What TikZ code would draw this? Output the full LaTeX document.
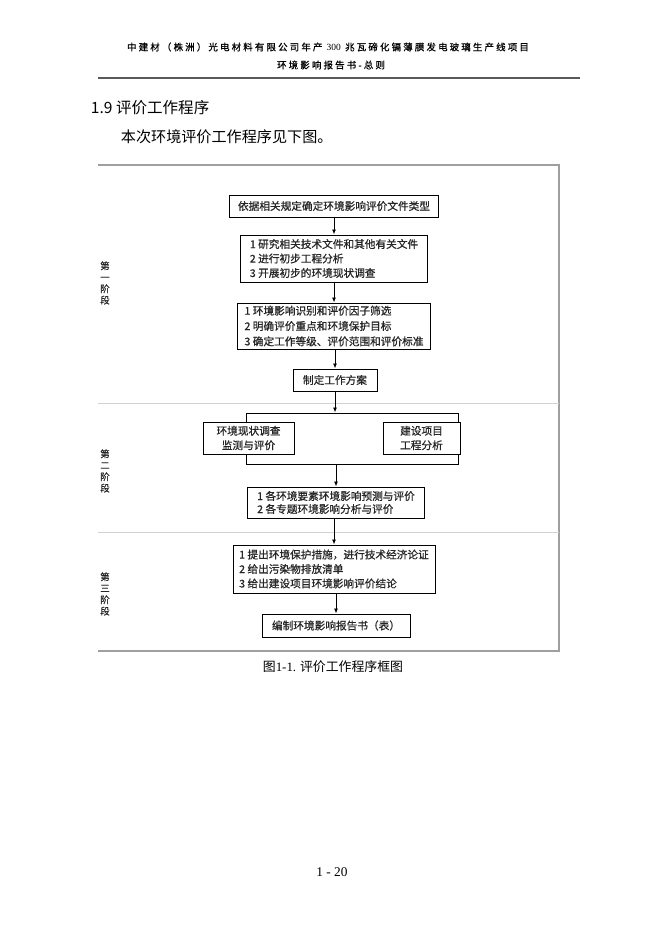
\documentclass[tikz,border=0pt]{standalone}
\usepackage{fontspec}
\setmainfont{Liberation Serif}
\newfontfamily\cjk{Noto Sans CJK SC}
\newfontfamily\cjkbox[FakeBold=0.7]{Noto Sans CJK SC}
\newfontfamily\cjkhead[LetterSpace=23, FakeBold=0.8]{Noto Sans CJK SC}
\usepackage{tikz}
\usetikzlibrary{arrows.meta, positioning}

\begin{document}
\begin{tikzpicture}[x=0.9pt, y=-0.9pt,
    flowbox/.style={draw, line width=0.9pt, fill=white, inner sep=0pt, text=black!85,
        font=\cjkbox\fontsize{9.6}{13}\selectfont},
    arrow/.style={-{Latex[length=4.5pt, width=3.6pt]}, line width=0.8pt},
    stagetext/.style={font=\cjkbox\fontsize{8.5}{10.3}\selectfont, align=center, inner sep=0pt, text=black!85}]
        \useasboundingbox (0,0) rectangle (664,932);
        % page head
        \node[font=\cjkhead\fontsize{8.5}{10}\selectfont] (head1) at (328,47)
            {中建材（株洲）光电材料有限公司年产 {\rmfamily 300} 兆瓦碲化镉薄膜发电玻璃生产线项目};
        \node[font=\cjkhead\fontsize{8.5}{10}\selectfont] (head2) at (331,65) {环境影响报告书-总则};
        \draw[line width=1pt, gray!70!black] (98,78) -- (580,78);
        \node[anchor=west, font=\cjk\fontsize{14}{16}\selectfont] (sec) at (87,108) {1.9 评价工作程序};
        \node[anchor=west, font=\cjk\fontsize{13.6}{16}\selectfont] (intro) at (117,137) {本次环境评价工作程序见下图。};
        % frame and stage lines
        \draw[line width=1.1pt, gray!75] (98,165) -- (559,165) -- (559,651) -- (98,651);
        \draw[line width=0.8pt, gray!35] (98,403) -- (559,403);
        \draw[line width=0.8pt, gray!35] (98,532) -- (559,532);
        \node[stagetext] (st1) at (105,283) {第\\一\\阶\\段};
        \node[stagetext] (st2) at (105,471) {第\\二\\阶\\段};
        \node[stagetext] (st3) at (105,594) {第\\三\\阶\\段};
        % boxes
        \node[flowbox, minimum width=188pt, minimum height=19.8pt] (basis) at (334,206)
            {依据相关规定确定环境影响评价文件类型};
        \node[flowbox, minimum width=169pt, minimum height=42.3pt, align=left] (prep) at (334,258.5)
            {1 研究相关技术文件和其他有关文件\\2 进行初步工程分析\\3 开展初步的环境现状调查};
        \node[flowbox, minimum width=173.7pt, minimum height=41.4pt, align=left,
            font=\cjkbox\fontsize{9.6}{13.8}\selectfont] (scope) at (334,326)
            {1 环境影响识别和评价因子筛选\\2 明确评价重点和环境保护目标\\3 确定工作等级、评价范围和评价标准};
        \node[flowbox, minimum width=75.6pt, minimum height=19.8pt] (plan) at (335,380) {制定工作方案};
        \node[draw, line width=0.9pt, minimum width=190.8pt, minimum height=45.9pt] (brk) at (352,438.5) {};
        \node[flowbox, minimum width=81.9pt, minimum height=28.8pt, align=center] (survey) at (248.5,438)
            {环境现状调查\\监测与评价};
        \node[flowbox, minimum width=69.3pt, minimum height=28.8pt, align=center] (project) at (421.5,438)
            {建设项目\\工程分析};
        \node[flowbox, minimum width=159.3pt, minimum height=27.9pt, align=left,
            font=\cjkbox\fontsize{9.6}{11.7}\selectfont] (predict) at (336,502.5)
            {1 各环境要素环境影响预测与评价\\2 各专题环境影响分析与评价};
        \node[flowbox, minimum width=181.8pt, minimum height=43.2pt, align=left] (measure) at (334,569)
            {1 提出环境保护措施，进行技术经济论证\\2 给出污染物排放清单\\3 给出建设项目环境影响评价结论};
        \node[flowbox, minimum width=133.2pt, minimum height=20.7pt] (report) at (336,625.5)
            {编制环境影响报告书（表）};
        % arrows
        \draw[arrow] (basis.south -| prep.north) -- (prep.north);
        \draw[arrow] (prep.south) -- (prep.south |- scope.north);
        \draw[arrow] (scope.south -| plan.north) -- (plan.north);
        \draw[arrow] (plan.south) -- (plan.south |- brk.north);
        \draw[arrow] (brk.south -| predict.north) -- (predict.north);
        \draw[arrow] (predict.south -| measure.north) -- (measure.north);
        \draw[arrow] (measure.south -| report.north) -- (report.north);
        % caption and page number
        \node[font=\cjk\fontsize{11.6}{14}\selectfont] (cap) at (333,667) {图{\rmfamily 1-1.} 评价工作程序框图};
        \node[font=\fontsize{12}{14}\selectfont] (page) at (332,872) {1 - 20};
\end{tikzpicture}
\end{document}
